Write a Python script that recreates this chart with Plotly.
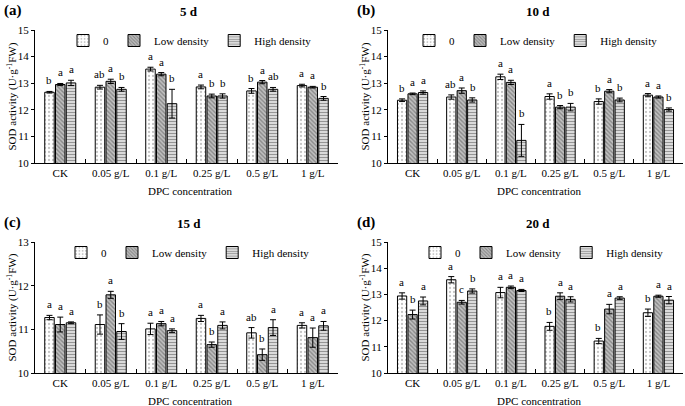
import plotly.graph_objects as go

categories = ["CK", "0.05 g/L", "0.1 g/L", "0.25 g/L", "0.5 g/L", "1 g/L"]
series_names = ["0", "Low density", "High density"]

# Panel (a) 5 d
a_vals = [[12.66, 12.85, 13.53, 12.86, 12.71, 12.91],
          [12.95, 13.07, 13.34, 12.52, 13.04, 12.85],
          [13.01, 12.77, 12.23, 12.52, 12.77, 12.43]]
a_errs = [[0.03, 0.07, 0.07, 0.07, 0.09, 0.05],
          [0.04, 0.08, 0.06, 0.07, 0.06, 0.03],
          [0.10, 0.07, 0.54, 0.08, 0.07, 0.07]]
a_lets = [["b", "ab", "a", "a", "b", "a"],
          ["a", "a", "a", "b", "a", "a"],
          ["a", "b", "b", "b", "ab", "b"]]

# Panel (b) 10 d
b_vals = [[12.36, 12.48, 13.24, 12.50, 12.31, 12.55],
          [12.60, 12.72, 13.03, 12.10, 12.70, 12.48],
          [12.65, 12.37, 10.85, 12.10, 12.37, 12.01]]
b_errs = [[0.05, 0.08, 0.10, 0.10, 0.10, 0.06],
          [0.03, 0.10, 0.08, 0.06, 0.06, 0.04],
          [0.06, 0.08, 0.60, 0.14, 0.07, 0.06]]
b_lets = [["b", "ab", "a", "a", "b", "a"],
          ["a", "a", "a", "b", "a", "a"],
          ["a", "b", "b", "b", "b", "b"]]

# Panel (c) 15 d
c_vals = [[11.27, 11.11, 11.01, 11.25, 10.92, 11.09],
          [11.11, 11.79, 11.13, 10.65, 10.42, 10.81],
          [11.15, 10.95, 10.97, 11.09, 11.04, 11.08]]
c_errs = [[0.05, 0.22, 0.13, 0.07, 0.12, 0.06],
          [0.17, 0.08, 0.05, 0.06, 0.13, 0.22],
          [0.02, 0.18, 0.04, 0.08, 0.18, 0.10]]
c_lets = [["a", "b", "a", "a", "ab", "a"],
          ["a", "a", "a", "b", "b", "a"],
          ["a", "b", "a", "a", "a", "a"]]

# Panel (d) 20 d
d_vals = [[12.94, 13.56, 13.07, 11.78, 11.22, 12.30],
          [12.23, 12.70, 13.27, 12.93, 12.44, 12.93],
          [12.75, 13.13, 13.15, 12.81, 12.86, 12.78]]
d_errs = [[0.12, 0.12, 0.20, 0.15, 0.10, 0.14],
          [0.17, 0.07, 0.05, 0.13, 0.18, 0.04],
          [0.15, 0.08, 0.04, 0.10, 0.05, 0.14]]
d_lets = [["a", "a", "a", "b", "b", "b"],
          ["b", "c", "a", "a", "a", "a"],
          ["a", "b", "a", "a", "a", "a"]]

panels = [
    ("(a)", "5 d", a_vals, a_errs, a_lets, [10, 15]),
    ("(b)", "10 d", b_vals, b_errs, b_lets, [10, 15]),
    ("(c)", "15 d", c_vals, c_errs, c_lets, [10, 13]),
    ("(d)", "20 d", d_vals, d_errs, d_lets, [10, 15]),
]

W, H = 685, 406
FONT = "Liberation Serif, Times New Roman, serif"

# layout geometry in pixels: (x0, x1, ytop, ybottom)
geo = [(35, 338, 30, 163), (388, 683, 30, 163), (35, 338, 242, 373), (388, 683, 242, 373)]
legend_pos = [(190, 26), (536, 26), (188, 238), (542, 238)]

patterns = [
    dict(shape=".", bgcolor="white", fgcolor="#8a8a8a", size=4, solidity=0.25),
    dict(shape="\\", bgcolor="#c0c0c0", fgcolor="#505050", size=3, solidity=0.45),
    dict(shape="-", bgcolor="#f0f0f0", fgcolor="#3a3a3a", size=3, solidity=0.5),
]

fig = go.Figure()
annotations = []
layout = {}
tfont = dict(size=11, family=FONT, color="black")

for p, (lab, title, vals, errs, lets, yr) in enumerate(panels):
    idx = "" if p == 0 else str(p + 1)
    xa, ya = "x" + idx, "y" + idx
    leg = "legend" if p == 0 else "legend" + str(p + 1)
    x0, x1, yt, yb = geo[p]
    for s in range(3):
        fig.add_trace(go.Bar(
            x=categories, y=vals[s], name=series_names[s],
            xaxis=xa, yaxis=ya, legend=leg,
            marker=dict(pattern=patterns[s], line=dict(color="black", width=1)),
            error_y=dict(type="data", array=errs[s], color="black", thickness=1, width=3),
            showlegend=True,
        ))
        for i, c in enumerate(categories):
            annotations.append(dict(
                x=c, y=vals[s][i] + errs[s][i], xref=xa, yref=ya,
                text=lets[s][i], showarrow=False, yanchor="bottom", yshift=3,
                xshift=(s - 1) * 10.8, font=tfont,
            ))
    layout["xaxis" + idx] = dict(
        domain=[x0 / W, x1 / W], anchor=ya, type="category", automargin=False,
        showline=True, linecolor="black", linewidth=1,
        ticks="inside", ticklen=4, tickcolor="black", tickson="boundaries",
        tickfont=tfont, showgrid=False, zeroline=False,
    )
    layout["yaxis" + idx] = dict(
        domain=[1 - yb / H, 1 - yt / H], anchor=xa, range=yr, dtick=1, automargin=False,
        showline=True, linecolor="black", linewidth=1,
        ticks="outside", ticklen=3, tickcolor="black",
        tickfont=tfont, showgrid=False, zeroline=False,
    )
    lx, ly = legend_pos[p]
    layout[leg] = dict(
        x=lx / W, y=1 - ly / H, xanchor="center", yanchor="top",
        orientation="h", bgcolor="rgba(0,0,0,0)", itemwidth=30,
        font=tfont, tracegroupgap=0,
    )
    # axis titles
    annotations.append(dict(
        x=((x0 + x1) / 2 + 4) / W, y=1 - (yb + 28) / H, xref="paper", yref="paper",
        text="DPC concentration", showarrow=False, xanchor="center", yanchor="middle",
        font=tfont,
    ))
    annotations.append(dict(
        x=(x0 - 23) / W, y=1 - ((yt + yb) / 2) / H, xref="paper", yref="paper",
        text="SOD activity (U·g<sup>-1</sup>FW)", showarrow=False, textangle=-90,
        xanchor="center", yanchor="middle", font=tfont,
    ))
    # panel label and title
    annotations.append(dict(
        x=(x0 - 33) / W, y=1 - (yt - 30) / H, xref="paper", yref="paper",
        text="<b>" + lab + "</b>", showarrow=False, xanchor="left", yanchor="top",
        font=dict(size=15, family=FONT, color="black"),
    ))
    annotations.append(dict(
        x=((x0 + x1) / 2 + 2) / W, y=1 - (yt - 28) / H, xref="paper", yref="paper",
        text="<b>" + title + "</b>", showarrow=False, xanchor="center", yanchor="top",
        font=dict(size=13, family=FONT, color="black"),
    ))

fig.update_layout(
    width=W, height=H, margin=dict(l=0, r=0, t=0, b=0),
    paper_bgcolor="white", plot_bgcolor="white",
    barmode="group", bargap=0.36, bargroupgap=0.12,
    annotations=annotations, font=dict(family=FONT, color="black"),
    **layout,
)

fig.write_html(
    "out.html",
    config={"displayModeBar": False},
    post_script="document.body.style.margin='0px';document.body.style.overflow='hidden';",
)
